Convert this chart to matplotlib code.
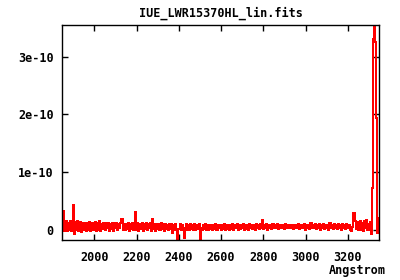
import numpy as np
import matplotlib
matplotlib.use("Agg")
import matplotlib.pyplot as plt

# flux, units of 1e-12, one sample every ~5 Angstrom
wave_start = 1851
wave_end = 3346
flux_e12 = [
    18, 33, -2, 14, -3, 12, 0, 15, -2, 11, 43, -7, 13, -1, 14, -3, 10, 13, -4, 12,
    -1, 12, -2, 11, 0, 13, -2, 10, 12, -1, 9, 13, -2, 11, 0, 14, -3, 10, 1, 12,
    -1, 11, 2, 12, -2, 10, 1, 12, -2, 11, 2, 12, -1, 10, 3, 11, 18, 0, 10, -1,
    10, 1, 12, -2, 10, 1, 12, -1, 9, 31, 0, 11, -2, 10, 1, 12, -2, 9, 1, 11,
    -1, 10, 2, 11, -2, 18, 1, 10, -2, 9, 1, 10, -1, 11, 1, 9, -2, 10, 1, 8,
    -1, 9, 1, 10, -6, 8, 0, 9, -1, -25, 1, 9, -1, 8, 0, -14, 2, 9, -1, 8,
    0, 9, 1, 8, -1, 10, 0, 8, 1, 9, -25, 2, -1, 8, 1, 9, 0, 7, -1, 8,
    1, 8, -1, 7, 1, 9, 0, 7, 2, 8, -1, 7, 1, 9, 0, 8, 1, 7, -1, 8,
    1, 9, 0, 7, 2, 10, 0, 8, 1, 7, 2, 9, 0, 8, 1, 7, 0, 9, 2, 8,
    1, 8, 0, 9, 2, 7, 1, 10, 2, 16, 1, 8, 2, 9, 0, 8, 2, 7, 1, 9,
    2, 8, 3, 9, 1, 8, 2, 7, 3, 8, 1, 9, 2, 8, 3, 7, 2, 8, 1, 8,
    3, 8, 2, 9, 1, 7, 2, 8, 3, 9, 0, 8, 2, 7, 1, 11, 2, 8, 3, 9,
    1, 8, 2, 10, 0, 8, 3, 9, 1, 8, 2, 7, 0, 11, 2, 8, 1, 9, 3, 8,
    1, 9, 2, 8, 0, 10, 2, 8, 1, 9, 3, 8, 0, -3, 5, 28, 28, 14, 1, 13,
    -1, 11, 15, 0, 12, -2, 14, 2, 16, -1, 10, 13, -8, 72, 330, 352, 325, 194, -6, 20,
]
xticks = [2000, 2200, 2400, 2600, 2800, 3000, 3200]
yticks = [0, 1e-10, 2e-10, 3e-10]
ytick_labels = ["0", "1e-10", "2e-10", "3e-10"]

wave = np.linspace(wave_start, wave_end, len(flux_e12))
flux = np.array(flux_e12) * 1e-12

plt.rcParams["font.family"] = "DejaVu Sans Mono"
plt.rcParams["font.weight"] = "bold"

fig = plt.figure(figsize=(4, 2.8), dpi=100)
ax = fig.add_axes([62 / 400, 1 - 240 / 280, 317 / 400, 215 / 280])

ax.plot(wave, flux, color="#ff0000", lw=1.1, drawstyle="steps-mid",
        antialiased=False)

ax.set_xlim(1847, 3348)
ax.set_ylim(-0.182e-10, 3.55e-10)
ax.set_xticks(xticks)
ax.set_xticklabels([str(t) for t in xticks])
ax.set_yticks(yticks)
ax.set_yticklabels(ytick_labels)
ax.tick_params(direction="in", length=4, width=1, top=True, right=True,
               labelsize=8.5)
ax.tick_params(axis="x", pad=8)
ax.tick_params(axis="y", pad=6)
for s in ax.spines.values():
    s.set_linewidth(1.0)

ax.set_title("IUE_LWR15370HL_lin.fits", fontsize=8.5, fontweight="bold", pad=6)
fig.text(386 / 400, 1 - 274 / 280, "Angstrom", ha="right", va="baseline",
         fontsize=8.5, fontweight="bold")

fig.savefig("out.png", dpi=100)
